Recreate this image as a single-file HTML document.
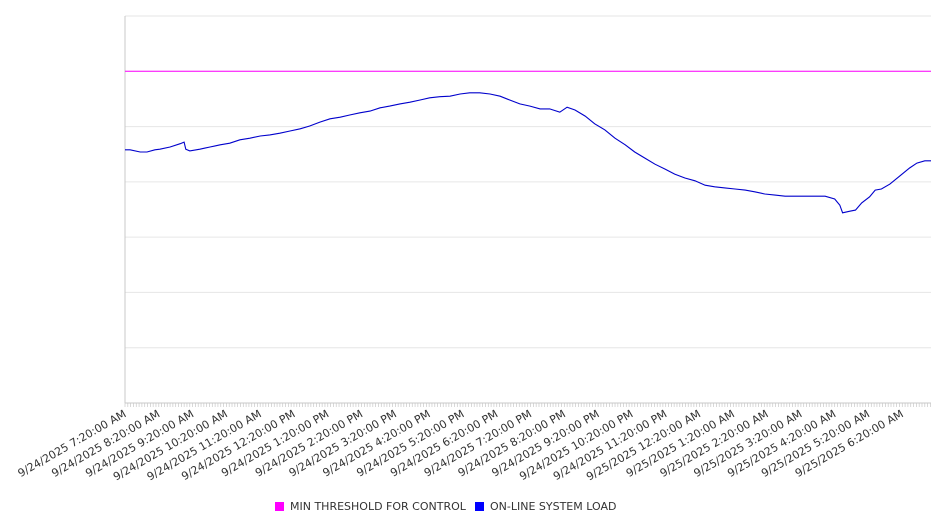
<!DOCTYPE html>
<html><head><meta charset="utf-8"><style>
html,body{margin:0;padding:0;background:#fff;width:946px;height:526px;overflow:hidden}
svg text{font-family:"DejaVu Sans","Liberation Sans",sans-serif}
</style></head><body>
<svg id="chart" width="946" height="526" xmlns="http://www.w3.org/2000/svg">
<g id="grid"></g>
<g id="axes"></g>
<g id="series"></g>
<g>
<rect x="275" y="502" width="9" height="9" fill="#ff00ff"/>
<text x="290" y="510" font-size="11" fill="#333">MIN THRESHOLD FOR CONTROL</text>
<rect x="475" y="502" width="9" height="9" fill="#0000ff"/>
<text x="490" y="510" font-size="11" fill="#333">ON-LINE SYSTEM LOAD</text>
</g>
</svg>
<script>
const minutes=[0,9,27,39,53,62,80,98,105,108,115,133,142,151,160,169,186,204,222,240,257,275,293,311,328,346,364,382,399,417,435,453,470,488,506,524,541,559,577,595,612,630,648,666,683,701,719,737,754,772,785,799,817,834,852,870,888,905,923,941,959,976,994,1012,1030,1047,1065,1083,1101,1118,1136,1154,1172,1189,1207,1225,1243,1260,1269,1274,1287,1297,1308,1322,1332,1343,1358,1376,1393,1406,1420,1431];
const loadValues=[458,458,454,454,458,459,463,469,472,459,456,459,461,463,465,467,470,476,479,483,485,488,492,496,501,508,514,517,521,525,528,534,537,541,544,548,552,554,555,559,561,561,559,555,548,541,537,532,532,526,535,530,519,505,494,479,467,454,443,432,423,414,407,402,394,391,389,387,385,382,378,376,374,374,374,374,374,369,358,344,347,349,362,373,385,387,396,411,425,434,438,438];
const thresholdValue=[600];
const tickLabels=["9/24/2025 7:20:00 AM","9/24/2025 8:20:00 AM","9/24/2025 9:20:00 AM","9/24/2025 10:20:00 AM","9/24/2025 11:20:00 AM","9/24/2025 12:20:00 PM","9/24/2025 1:20:00 PM","9/24/2025 2:20:00 PM","9/24/2025 3:20:00 PM","9/24/2025 4:20:00 PM","9/24/2025 5:20:00 PM","9/24/2025 6:20:00 PM","9/24/2025 7:20:00 PM","9/24/2025 8:20:00 PM","9/24/2025 9:20:00 PM","9/24/2025 10:20:00 PM","9/24/2025 11:20:00 PM","9/25/2025 12:20:00 AM","9/25/2025 1:20:00 AM","9/25/2025 2:20:00 AM","9/25/2025 3:20:00 AM","9/25/2025 4:20:00 AM","9/25/2025 5:20:00 AM","9/25/2025 6:20:00 AM"];
const yGridValues=[0,100,200,300,400,500,600,700];

const X0=125,X1=931,Y0=403,Y1=16,TMAX=1431,VMAX=700;
const xs=m=>X0+(m/TMAX)*(X1-X0);
const ys=v=>Y0-(v/VMAX)*(Y0-Y1);
const NS="http://www.w3.org/2000/svg";
function mk(tag,attrs,parent){const e=document.createElementNS(NS,tag);for(const k in attrs)e.setAttribute(k,attrs[k]);parent.appendChild(e);return e;}
const grid=document.getElementById('grid'),axes=document.getElementById('axes'),series=document.getElementById('series');
yGridValues.forEach(v=>{const l=mk('line',{x1:X0,x2:X1,y1:ys(v),y2:ys(v),stroke:'#e6e6e6','stroke-width':1},grid);

});
const ya=mk('line',{x1:X0,x2:X0,y1:Y1,y2:Y0,stroke:'#c8c8c8','stroke-width':1},axes);


const xa=mk('line',{x1:X0,x2:X1,y1:Y0,y2:Y0,stroke:'#c8c8c8','stroke-width':1},axes);


for(let m=0;m<=TMAX;m+=5){const t=mk('line',{x1:xs(m),x2:xs(m),y1:Y0,y2:Y0+4,stroke:'#c8c8c8','stroke-width':0.7},axes);

}
tickLabels.forEach((s,i)=>{const x=xs(i*60)+2;const y=Y0+13;const t=mk('text',{x:x,y:y,'font-size':11,fill:'#333','text-anchor':'end',transform:`rotate(-30 ${x} ${y})`},axes);t.textContent=s;

});
const th=mk('line',{x1:X0,x2:X1,y1:ys(thresholdValue[0]),y2:ys(thresholdValue[0]),stroke:'#ff00ff','stroke-width':1},series);


const d=minutes.map((m,i)=>(i?'L':'M')+xs(m).toFixed(1)+','+ys(loadValues[i]).toFixed(1)).join('');
const p=mk('path',{d:d,fill:'none',stroke:'#0000cc','stroke-width':1.1},series);


</script>
</body></html>
